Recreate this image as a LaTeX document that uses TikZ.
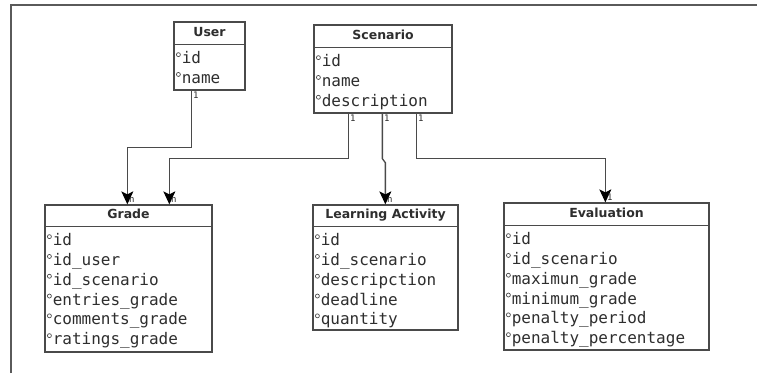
\documentclass[tikz,border=0pt]{standalone}
\usepackage{fontspec}
\usetikzlibrary{arrows.meta,calc}
\newfontfamily\hdrfont{DejaVu Sans}
\newfontfamily\attrfont{DejaVu Sans Mono}
\definecolor{edgec}{HTML}{4A4A4A}
\definecolor{framec}{HTML}{5A5A5A}
\definecolor{txtc}{HTML}{2E2E2E}
% one attribute row: small ring marker followed by the field name
\newcommand\fld[1]{\hspace{1.5pt}\raisebox{0.42em}{\tikz\draw[edgec,line width=0.7pt] (0,0) circle (2pt);}\hspace{1pt}#1}
% entity box: name, left, top, right, bottom, divider y, title, rows
\newcommand\entity[8]{%
  \node[ebox, minimum width={#4-#2}, minimum height={#5-#3}] (#1) at ({(#2+#4)/2},{(#3+#5)/2}) {};
  \node[etitle] (#1-t) at ({(#2+#4)/2},{(#3+#6)/2}) {#7};
  \draw[eline] ($(#1.north west)+(0,#6-#3)$) -- ($(#1.north east)+(0,#6-#3)$);
  \node[ebody] (#1-b) at ($(#1.north west)+(1,#6-#3+7)$) {#8};
}
\begin{document}
\begin{tikzpicture}[x=1pt,y=-1pt,
  ebox/.style={draw=edgec, line width=1.3pt, fill=white, inner sep=0pt, rectangle},
  eline/.style={draw=edgec, line width=1.1pt},
  etitle/.style={font=\hdrfont\bfseries\fontsize{12.5}{14}\selectfont, text=txtc, inner sep=0pt, text height=0.75em, text depth=0.2em},
  ebody/.style={font=\attrfont\fontsize{16}{19.8}\selectfont, text=txtc, align=left, anchor=north west, inner sep=0pt},
  conn/.style={draw=edgec, line width=1.3pt, -{Stealth[length=13pt,width=12pt,inset=3pt,color=black]}},
  mult/.style={font=\attrfont\fontsize{9}{10}\selectfont, text=txtc, inner sep=1pt}]
\useasboundingbox (0,0) rectangle (760,373);
\fill[white] (0,0) rectangle (760,373);
% page frame
\draw[framec, line width=1.6pt] (11,373) -- (11,5) -- (757,5);

\entity{user}{174}{22}{245}{90}{45}{User}{\fld{id}\\\fld{name}}
\entity{scen}{314}{25}{452}{113}{48}{Scenario}{\fld{id}\\\fld{name}\\\fld{description}}
\entity{grade}{45}{205}{212}{352}{227}{Grade}{\fld{id}\\\fld{id\_user}\\\fld{id\_scenario}\\\fld{entries\_grade}\\\fld{comments\_grade}\\\fld{ratings\_grade}}
\entity{act}{313}{205}{458}{330}{227}{Learning Activity}{\fld{id}\\\fld{id\_scenario}\\\fld{descripction}\\\fld{deadline}\\\fld{quantity}}
\entity{eval}{504}{203}{709}{350}{226}{Evaluation}{\fld{id}\\\fld{id\_scenario}\\\fld{maximun\_grade}\\\fld{minimum\_grade}\\\fld{penalty\_period}\\\fld{penalty\_percentage}}

% relations
\draw[conn] ($(user.south west)+(18,0)$) node[mult, anchor=north west] {1}
  -- ++(0,57) -| ($(grade.north west)+(83,0)$) node[mult, anchor=south west] {n};
\draw[conn] ($(scen.south west)+(35,0)$) node[mult, anchor=north west] {1}
  -- ++(0,45) -| ($(grade.north west)+(125,0)$) node[mult, anchor=south west] {n};
\draw[conn] ($(scen.south west)+(69,0)$) node[mult, anchor=north west] {1}
  -- ++(0,45) -- ++(3,4) -- ($(act.north west)+(73,0)$) node[mult, anchor=south west] {n};
\draw[conn] ($(scen.south west)+(103,0)$) node[mult, anchor=north west] {1}
  -- ++(0,45) -| ($(eval.north west)+(102,0)$) node[mult, anchor=south west] {1};
\end{tikzpicture}
\end{document}
